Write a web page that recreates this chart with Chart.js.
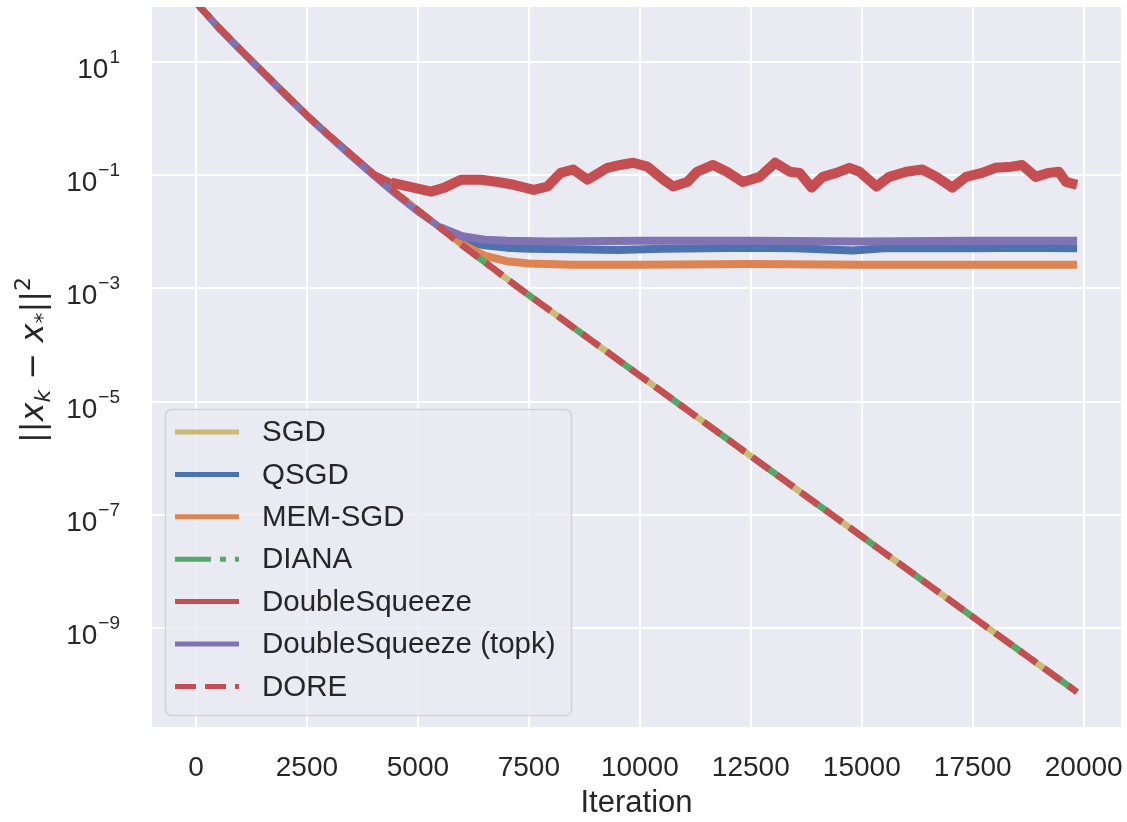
<!DOCTYPE html>
<html>
<head>
<meta charset="utf-8">
<script src="https://cdn.jsdelivr.net/npm/chart.js@4.4.0/dist/chart.umd.min.js"></script>
<style>
  html, body { margin: 0; padding: 0; background: #fff; }
  #wrap { width: 1127px; height: 822px; }
</style>
</head>
<body>
<div id="wrap"><canvas id="chart"></canvas></div>
<script>
// values, as log10 of ||x_k - x*||^2
const convergedIters = [0, 500, 1000, 1500, 2000, 2500, 3000, 3500, 4000, 4500, 5000, 5500, 6000, 6500, 7000, 7500, 10000, 12500, 15000, 17500, 19850];
const convergedLog = [2.05, 1.62, 1.22, 0.83, 0.44, 0.06, -0.30, -0.64, -0.98, -1.31, -1.62, -1.93, -2.24, -2.53, -2.83, -3.12, -4.54, -5.96, -7.38, -8.80, -10.13];

const qsgdIters = [0, 500, 1000, 1500, 2000, 2500, 3000, 3500, 4000, 4500, 5000, 5500, 6000, 6500, 7000, 7500, 8500, 9500, 10500, 11500, 12500, 13500, 14800, 15500, 16500, 17500, 18500, 19850];
const qsgdLog = [2.05, 1.62, 1.22, 0.83, 0.44, 0.06, -0.30, -0.64, -0.98, -1.31, -1.62, -1.92, -2.15, -2.24, -2.28, -2.30, -2.31, -2.32, -2.30, -2.29, -2.28, -2.29, -2.33, -2.29, -2.29, -2.29, -2.28, -2.29];

const memIters = [0, 500, 1000, 1500, 2000, 2500, 3000, 3500, 4000, 4500, 5000, 5500, 6000, 6500, 7000, 7500, 8500, 10000, 12500, 15000, 17500, 19850];
const memLog = [2.05, 1.62, 1.22, 0.83, 0.44, 0.06, -0.30, -0.64, -0.98, -1.31, -1.62, -1.93, -2.22, -2.42, -2.52, -2.56, -2.58, -2.58, -2.57, -2.58, -2.58, -2.58];

const dsIters = [0, 500, 1000, 1500, 2000, 2500, 3000, 3500, 4000, 4400, 4900, 5300, 5600, 5970, 6420, 6800, 7160, 7610, 7920, 8215, 8500, 8820, 9270, 9560, 9850, 10170, 10530, 10750, 11070, 11290, 11650, 11960, 12320, 12700, 13050, 13380, 13600, 13870, 14120, 14430, 14720, 14950, 15330, 15620, 16000, 16360, 16680, 17040, 17350, 17710, 18020, 18380, 18610, 18920, 19210, 19440, 19600, 19850];
const dsLog = [2.05, 1.62, 1.22, 0.83, 0.44, 0.06, -0.30, -0.64, -0.98, -1.13, -1.22, -1.29, -1.22, -1.08, -1.08, -1.12, -1.17, -1.26, -1.20, -0.96, -0.90, -1.08, -0.87, -0.82, -0.78, -0.85, -1.08, -1.20, -1.12, -0.94, -0.82, -0.94, -1.12, -1.03, -0.78, -0.94, -0.96, -1.22, -1.03, -0.96, -0.87, -0.94, -1.20, -1.03, -0.94, -0.90, -1.03, -1.22, -1.03, -0.96, -0.87, -0.85, -0.82, -1.03, -0.96, -0.94, -1.12, -1.17];

const topkIters = [0, 500, 1000, 1500, 2000, 2500, 3000, 3500, 4000, 4500, 5000, 5500, 6000, 6500, 7000, 8000, 10000, 12500, 15000, 17500, 19850];
const topkLog = [2.05, 1.60, 1.20, 0.81, 0.42, 0.04, -0.32, -0.67, -1.01, -1.34, -1.65, -1.92, -2.08, -2.14, -2.16, -2.17, -2.16, -2.16, -2.17, -2.16, -2.16];

const seriesNames = ['SGD', 'QSGD', 'MEM-SGD', 'DIANA', 'DoubleSqueeze', 'DoubleSqueeze (topk)', 'DORE'];
const seriesColors = ['#CCB974', '#4C72B0', '#DD8452', '#55A868', '#C44E52', '#8172B3', '#C44E52'];

const xTicks = [0, 2500, 5000, 7500, 10000, 12500, 15000, 17500, 20000];
const yTickExps = [1, -1, -3, -5, -7, -9];

const ink = '#262626';
const sans = '"Liberation Sans", Arial, sans-serif';

function pts(iters, logs) {
    return iters.map((x, i) => ({ x: x, y: Math.pow(10, logs[i]) }));
}

// plateau parts are noisy bands in the original, drawn wider here
function bandWidth(from, wide) {
    return ctx => ctx.p0.parsed.x >= from ? wide : 6.5;
}

const dashes = [[], [], [], [36, 9, 6, 9], [], [], [21, 9]];
const seriesData = [
    pts(convergedIters, convergedLog),
    pts(qsgdIters, qsgdLog),
    pts(memIters, memLog),
    pts(convergedIters, convergedLog),
    pts(dsIters, dsLog),
    pts(topkIters, topkLog),
    pts(convergedIters, convergedLog)
];
const bandFrom = [null, 6000, 6000, null, 4400, 5500, null];
const bandWide = [0, 8, 8, 0, 10, 8, 0];

const datasets = seriesNames.map((name, i) => ({
    label: name,
    data: seriesData[i],
    borderColor: seriesColors[i],
    borderWidth: 6.5,
    borderDash: dashes[i],
    borderCapStyle: 'butt',
    borderJoinStyle: 'round',
    pointRadius: 0,
    tension: 0,
    clip: 0,
    order: 6 - i,
    segment: bandFrom[i] === null ? undefined : { borderWidth: bandWidth(bandFrom[i], bandWide[i]) }
}));

const plotBackground = {
    id: 'plotBackground',
    beforeDraw(chart) {
        const { ctx, chartArea: a } = chart;
        ctx.save();
        ctx.fillStyle = '#EAEAF2';
        ctx.fillRect(a.left, a.top, a.right - a.left, a.bottom - a.top);
        ctx.restore();
    }
};

// y tick labels as 10 with a raised exponent
const powerLabels = {
    id: 'powerLabels',
    afterDraw(chart) {
        const ctx = chart.ctx;
        const y = chart.scales.y;
        const right = 120;
        ctx.save();
        ctx.fillStyle = ink;
        ctx.textBaseline = 'alphabetic';
        yTickExps.forEach(e => {
            const py = y.getPixelForValue(Math.pow(10, e));
            const exp = (e < 0 ? '\u2212' : '') + Math.abs(e);
            ctx.font = '19px ' + sans;
            const ew = ctx.measureText(exp).width;
            ctx.textAlign = 'left';
            ctx.fillText(exp, right - ew, py + 1);
            ctx.font = '28px ' + sans;
            ctx.textAlign = 'right';
            ctx.fillText('10', right - ew - 1, py + 16);
        });
        ctx.restore();
    }
};

// rotated y title ||x_k - x_*||^2
const yTitle = {
    id: 'yTitle',
    afterDraw(chart) {
        const ctx = chart.ctx;
        const dv = '"DejaVu Sans", sans-serif';
        const parts = [
            { t: '||', f: '32px ' + dv, dy: 0 },
            { t: 'x', f: 'italic 32px ' + dv, dy: 0 },
            { t: 'k', f: 'italic 22px ' + dv, dy: 7 },
            { t: ' \u2212 ', f: '32px ' + dv, dy: 0 },
            { t: 'x', f: 'italic 32px ' + dv, dy: 0 },
            { t: '*', f: '22px ' + dv, dy: 7 },
            { t: '||', f: '32px ' + dv, dy: 0 },
            { t: '2', f: '22px ' + dv, dy: -13 }
        ];
        ctx.save();
        let total = 0;
        parts.forEach(p => { ctx.font = p.f; p.w = ctx.measureText(p.t).width; total += p.w; });
        ctx.translate(43, 360);
        ctx.rotate(-Math.PI / 2);
        ctx.fillStyle = ink;
        ctx.textAlign = 'left';
        ctx.textBaseline = 'alphabetic';
        let u = -total / 2;
        parts.forEach(p => {
            ctx.font = p.f;
            ctx.fillText(p.t, u, p.dy);
            u += p.w;
        });
        ctx.restore();
    }
};

const boxLegend = {
    id: 'boxLegend',
    afterDraw(chart) {
        const ctx = chart.ctx;
        ctx.save();
        ctx.beginPath();
        ctx.roundRect(165.5, 409.5, 406, 306, 6);
        ctx.fillStyle = 'rgba(234,234,242,0.8)';
        ctx.fill();
        ctx.strokeStyle = 'rgba(204,204,204,0.8)';
        ctx.lineWidth = 1.5;
        ctx.stroke();
        ctx.font = '29.5px ' + sans;
        ctx.textBaseline = 'middle';
        ctx.textAlign = 'left';
        chart.data.datasets.forEach((ds, i) => {
            const ry = 432 + i * 42.4;
            ctx.beginPath();
            ctx.setLineDash(ds.borderDash);
            ctx.lineCap = 'butt';
            ctx.strokeStyle = ds.borderColor;
            ctx.lineWidth = 5;
            ctx.moveTo(175, ry);
            ctx.lineTo(239, ry);
            ctx.stroke();
            ctx.setLineDash([]);
            ctx.fillStyle = ink;
            ctx.fillText(ds.label, 262, ry + 1);
        });
        ctx.restore();
    }
};

new Chart(document.getElementById('chart'), {
    type: 'line',
    data: { datasets: datasets },
    options: {
        responsive: true,
        maintainAspectRatio: false,
        animation: false,
        layout: { padding: { top: 7, right: 6, left: 0, bottom: 0 } },
        scales: {
            x: {
                type: 'linear',
                min: -990,
                max: 20840,
                afterBuildTicks: s => { s.ticks = xTicks.map(v => ({ value: v })); },
                afterFit: s => { s.height = 95; s.paddingLeft = 0; s.paddingRight = 0; },
                grid: { color: '#ffffff', lineWidth: 2, drawTicks: false },
                border: { display: false },
                ticks: {
                    color: ink,
                    font: { size: 28, family: sans },
                    padding: 24,
                    maxRotation: 0,
                    autoSkip: false,
                    callback: v => String(v)
                },
                title: {
                    display: true,
                    text: 'Iteration',
                    color: ink,
                    font: { size: 31, family: sans },
                    padding: { top: 0, bottom: 0 }
                }
            },
            y: {
                type: 'logarithmic',
                min: Math.pow(10, -10.746),
                max: Math.pow(10, 1.97),
                afterBuildTicks: s => { s.ticks = yTickExps.map(e => ({ value: Math.pow(10, e) })); },
                afterFit: s => { s.width = 152; s.paddingTop = 0; s.paddingBottom = 0; },
                grid: { color: '#ffffff', lineWidth: 2, drawTicks: false },
                border: { display: false },
                ticks: { display: false }
            }
        },
        plugins: {
            legend: { display: false },
            tooltip: { enabled: false }
        }
    },
    plugins: [plotBackground, powerLabels, yTitle, boxLegend]
});
</script>
</body>
</html>
